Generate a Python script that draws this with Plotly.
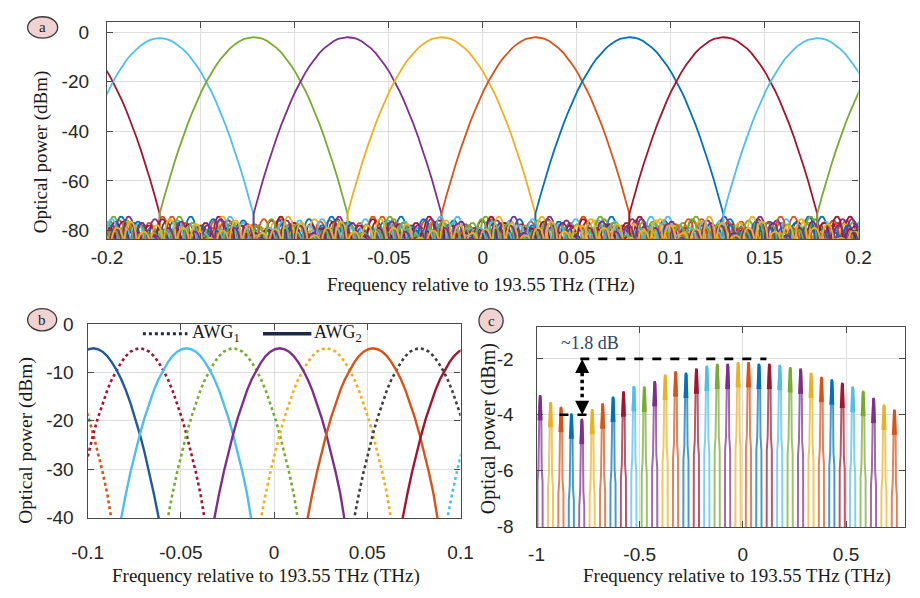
import plotly.graph_objects as go

W, H = 920, 598

# ---------------------------------------------------------------- data
# Passband shape shared by all channels: attenuation below the peak (dB)
# versus offset from the channel centre (THz), one side of the lobe.
lobe_offset = [0.0, 0.0025, 0.005, 0.0075, 0.01, 0.0125, 0.015, 0.0175, 0.02,
               0.0225, 0.025, 0.0275, 0.03, 0.0325, 0.035, 0.0375, 0.04,
               0.0425, 0.045, 0.0475, 0.05]
lobe_atten = [0.0, 0.2, 0.7, 1.6, 2.9, 4.5, 6.4, 8.7, 11.4, 14.4, 17.8, 21.5,
              25.6, 30.1, 34.9, 40.1, 45.6, 51.5, 57.7, 64.3, 71.3]

# Sidelobe ripple outside the main lobe (panel a)
arch_width = 0.007
arch_pos = [0.0, 0.1, 0.25, 0.4, 0.5, 0.6, 0.75, 0.9, 1.0]
arch_frac = [0.0, 0.55, 0.88, 0.99, 1.0, 0.99, 0.88, 0.55, 0.0]
sidelobe_floor = -87.0
sidelobe_peaks = [-75.5, -78, -80.5, -76.5, -79, -82, -77, -74.5,
                  -79.5, -81, -78, -76, -80, -83, -77.5, -79]

# Panel a: single AWG channels
a_centers = [-0.322, -0.272, -0.222, -0.172, -0.122, -0.072, -0.022, 0.028,
             0.078, 0.128, 0.178, 0.228, 0.278, 0.328]
a_peaks = [-2.0, -2.0, -2.0, -2.4, -2.0, -2.0, -2.0, -2.0, -2.0, -2.0, -2.4,
           -2.0, -2.0, -2.0]
a_colors = ["orange", "blue", "red", "lightblue", "green", "purple", "yellow",
            "orange", "blue", "red", "lightblue", "green", "purple", "yellow"]

# Panel b: two interleaved AWGs
b_awg1_centers = [-0.122, -0.072, -0.022, 0.028, 0.078, 0.128]
b_awg1_peaks = [-5.0, -5.0, -5.0, -5.0, -5.0, -5.0]
b_awg1_colors = ["#D95319", "#A2142F", "#77AC30", "#EDB120", "#404040", "#4DBEEE"]
b_awg2_centers = [-0.097, -0.047, 0.003, 0.053, 0.104]
b_awg2_peaks = [-5.0, -5.0, -5.0, -5.0, -5.0]
b_awg2_colors = ["#235A9C", "#4DBEEE", "#7E2F8E", "#D95319", "#A2142F"]

# Panel c: full comb of channels
c_centers = [-0.983, -0.9325, -0.882, -0.8315, -0.781, -0.7305, -0.680,
             -0.6295, -0.579, -0.5285, -0.478, -0.4275, -0.377, -0.3265,
             -0.276, -0.2255, -0.175, -0.1245, -0.074, -0.0235, 0.027,
             0.0775, 0.128, 0.1785, 0.229, 0.2795, 0.330, 0.3805, 0.431,
             0.4815, 0.532, 0.5825, 0.633, 0.6835, 0.734]
c_peaks = [-3.3, -3.55, -3.72, -3.96, -4.15, -3.8, -3.6, -3.36, -3.17, -2.98,
           -3.0, -2.8, -2.57, -2.45, -2.5, -2.35, -2.25, -2.18, -2.18, -2.12,
           -2.12, -2.18, -2.18, -2.22, -2.3, -2.35, -2.5, -2.65, -2.74, -2.86,
           -3.0, -3.15, -3.4, -3.64, -3.82]
c_colors = ["purple", "yellow", "orange", "blue", "purple", "yellow", "orange",
            "blue", "red", "lightblue", "green", "purple", "yellow", "orange",
            "blue", "red", "lightblue", "green", "purple", "yellow", "orange",
            "blue", "red", "lightblue", "green", "purple", "yellow", "orange",
            "blue", "red", "lightblue", "green", "purple", "yellow", "orange"]
# narrow passband outline as it appears on the wide frequency span
spike_offset = [-0.013, -0.0122, -0.0078, -0.0062, -0.0025, 0.0, 0.0025,
                0.0062, 0.0078, 0.0122, 0.013]
spike_atten = [7.0, 3.1, 2.6, 0.9, 0.08, 0.0, 0.08, 0.9, 2.6, 3.1, 7.0]

# flatness markers in panel c
flat_hi = -2.0
flat_lo = -4.0
flat_hi_span = [-0.788, 0.114]
flat_lo_span = [-0.889, -0.755]
flat_arrow_x = -0.779

# ---------------------------------------------------------------- styles
PALETTE = {"blue": "#0072BD", "orange": "#D95319", "yellow": "#EDB120",
           "purple": "#7E2F8E", "green": "#77AC30", "lightblue": "#4DBEEE",
           "red": "#A2142F"}
SANS = "Liberation Sans, Arial, sans-serif"
SERIF = "Liberation Serif, Times New Roman, serif"
FRAME = "#4a4a4a"
GRID = "#dedede"
TICK = "#262626"


def mix_white(hex_color, t):
    r, g, b = (int(hex_color[i:i + 2], 16) for i in (1, 3, 5))
    r, g, b = (round(c + (255 - c) * t) for c in (r, g, b))
    return f"#{r:02x}{g:02x}{b:02x}"


def main_lobe(center, peak):
    offs = [-o for o in reversed(lobe_offset[1:])] + lobe_offset
    atts = list(reversed(lobe_atten[1:])) + lobe_atten
    return [center + o for o in offs], [peak - a for a in atts]


def channel_with_sidelobes(center, peak, phase, n_arch=80):
    xs, ys = [], []
    n_lv = len(sidelobe_peaks)
    edge = lobe_offset[-1]
    for j in reversed(range(n_arch)):
        start = -edge - (j + 1) * arch_width
        lvl = sidelobe_peaks[(phase + j) % n_lv]
        for p, fr in zip(arch_pos, arch_frac):
            xs.append(center + start + p * arch_width)
            ys.append(sidelobe_floor + fr * (lvl - sidelobe_floor))
    mx, my = main_lobe(center, peak)
    xs += mx
    ys += my
    for j in range(n_arch):
        start = edge + j * arch_width
        lvl = sidelobe_peaks[(phase + 9 + j) % n_lv]
        for p, fr in zip(arch_pos, arch_frac):
            xs.append(center + start + p * arch_width)
            ys.append(sidelobe_floor + fr * (lvl - sidelobe_floor))
    return xs, ys


fig = go.Figure()

# ---------------------------------------------------------------- panel a
for i, (c, p, col) in enumerate(zip(a_centers, a_peaks, a_colors)):
    xs, ys = channel_with_sidelobes(c, p, (i * 5) % len(sidelobe_peaks))
    fig.add_trace(go.Scatter(x=xs, y=ys, mode="lines", xaxis="x", yaxis="y",
                             line=dict(color=PALETTE[col], width=1.8),
                             showlegend=False, hoverinfo="skip"))

# ---------------------------------------------------------------- panel b
for c, p, col in zip(b_awg1_centers, b_awg1_peaks, b_awg1_colors):
    xs, ys = main_lobe(c, p)
    fig.add_trace(go.Scatter(x=xs, y=ys, mode="lines", xaxis="x2", yaxis="y2",
                             line=dict(color=col, width=2.6, dash="dot"),
                             showlegend=False, hoverinfo="skip"))
for c, p, col in zip(b_awg2_centers, b_awg2_peaks, b_awg2_colors):
    xs, ys = main_lobe(c, p)
    fig.add_trace(go.Scatter(x=xs, y=ys, mode="lines", xaxis="x2", yaxis="y2",
                             line=dict(color=col, width=2.4),
                             showlegend=False, hoverinfo="skip"))

# ---------------------------------------------------------------- panel c
for c, p, col in zip(c_centers, c_peaks, c_colors):
    xs = [c + o for o in spike_offset]
    ys = [p - a for a in spike_atten]
    fig.add_trace(go.Scatter(x=xs, y=ys, mode="lines", xaxis="x3", yaxis="y3",
                             line=dict(color=mix_white(PALETTE[col], 0.28), width=2),
                             showlegend=False, hoverinfo="skip"))
    top = [k for k, a in enumerate(spike_atten) if a <= 1.0]
    fig.add_trace(go.Scatter(x=[xs[k] for k in top], y=[ys[k] for k in top],
                             mode="lines", xaxis="x3", yaxis="y3",
                             line=dict(color=PALETTE[col], width=2.4),
                             showlegend=False, hoverinfo="skip"))


# ---------------------------------------------------------------- axes
def px(x):
    return x / W


def py(y):
    return 1 - y / H


def axis(domain, rng, vals, anchor, standoff, labels=None):
    return dict(domain=domain, range=rng, tickvals=vals,
                ticktext=labels if labels is not None else [f"{v:g}" for v in vals],
                anchor=anchor, showgrid=True, gridcolor=GRID, gridwidth=1,
                zeroline=False, showline=True, linecolor=FRAME, linewidth=1.4,
                mirror="ticks", ticks="inside", ticklen=6, tickwidth=1.2,
                tickcolor=FRAME, ticklabelstandoff=standoff,
                tickfont=dict(family=SANS, size=19, color=TICK), fixedrange=True)


a_xticks = [-0.2, -0.15, -0.1, -0.05, 0, 0.05, 0.1, 0.15, 0.2]
a_yticks = [-80, -60, -40, -20, 0]
b_xticks = [-0.1, -0.05, 0, 0.05, 0.1]
b_yticks = [-40, -30, -20, -10, 0]
c_xticks = [-1, -0.5, 0, 0.5]
c_yticks = [-8, -6, -4, -2]

fig.update_layout(
    width=W, height=H, margin=dict(l=0, r=0, t=0, b=0),
    paper_bgcolor="white", plot_bgcolor="white",
    xaxis=axis([px(94), px(870)], [-0.2, 0.2], a_xticks, "y", 1),
    yaxis=axis([py(236.7), py(12.3)], [-83.4, 4.2], a_yticks, "x", 13),
    xaxis2=axis([px(74), px(459)], [-0.1, 0.1], b_xticks, "y2", 17),
    yaxis2=axis([py(525.5), py(324.5)], [-40.1, 0.1], b_yticks, "x2", 9),
    xaxis3=axis([px(537.5), px(918)], [-1.0, 0.786], c_xticks, "y3", 10),
    yaxis3=axis([py(535), py(328)], [-8.02, -0.86], c_yticks, "x3", 18),
)

# ---------------------------------------------------------------- text
annotations = []


def label(text, x, y, size, angle=0, color="#1a1a1a", family=SERIF, xanchor="center"):
    annotations.append(dict(text=text, x=px(x), y=py(y), xref="paper", yref="paper",
                            showarrow=False, textangle=angle, xanchor=xanchor,
                            yanchor="middle", font=dict(family=family, size=size, color=color)))


xtitle = "Frequency relative to 193.55 THz (THz)"
ytitle = "Optical power (dBm)"
label(xtitle, 480, 284, 19)
label(ytitle, 26, 147, 19, angle=-90)
label(xtitle, 258, 586, 19)
label(ytitle, 10, 445, 19.5, angle=-90)
label(xtitle, 744, 586, 19)
label(ytitle, 488, 433, 20, angle=-90)

# panel b legend
label("AWG<sub>1</sub>", 180, 335, 18, xanchor="left")
label("AWG<sub>2</sub>", 306, 335, 18, xanchor="left")

# flatness label
label("~1.8 dB", 593, 345, 18, color="#2b4470")

shapes = []
# legend samples
shapes.append(dict(type="line", xref="paper", yref="paper", x0=px(131), x1=px(177),
                   y0=py(335), y1=py(335), line=dict(color="#1c2a44", width=3, dash="dot")))
shapes.append(dict(type="line", xref="paper", yref="paper", x0=px(255), x1=px(305),
                   y0=py(335), y1=py(335), line=dict(color="#1c2a44", width=3.5)))

# panel tags
for tag, (x0, y0, x1, y1) in {"a": (12, 7, 43, 29), "b": (12, 309, 42, 332),
                              "c": (478, 309, 503, 334)}.items():
    shapes.append(dict(type="circle", xref="paper", yref="paper",
                       x0=px(x0), x1=px(x1), y0=py(y1), y1=py(y0),
                       fillcolor="#f1d2d2", line=dict(color="#3a3a3a", width=1.3)))
    label(tag, (x0 + x1) / 2, (y0 + y1) / 2, 15, color="#222222")

# flatness markers
shapes.append(dict(type="line", xref="x3", yref="y3", x0=flat_hi_span[0], x1=flat_hi_span[1],
                   y0=flat_hi, y1=flat_hi, line=dict(color="black", width=2.6, dash="dash")))
shapes.append(dict(type="line", xref="x3", yref="y3", x0=flat_lo_span[0], x1=flat_lo_span[1],
                   y0=flat_lo, y1=flat_lo, line=dict(color="black", width=2.6, dash="dash")))
shapes.append(dict(type="line", xref="x3", yref="y3", x0=flat_arrow_x, x1=flat_arrow_x,
                   y0=flat_hi - 0.5, y1=flat_lo + 0.5,
                   line=dict(color="black", width=3.5, dash="dot")))
shapes.append(dict(type="path", xref="x3", yref="y3", xsizemode="pixel", ysizemode="pixel",
                   xanchor=flat_arrow_x, yanchor=flat_hi,
                   path="M -7 -14 L 0 0 L 7 -14 Z", fillcolor="black", line=dict(width=0)))
shapes.append(dict(type="path", xref="x3", yref="y3", xsizemode="pixel", ysizemode="pixel",
                   xanchor=flat_arrow_x, yanchor=flat_lo,
                   path="M -7 14 L 0 0 L 7 14 Z", fillcolor="black", line=dict(width=0)))

fig.update_layout(annotations=annotations, shapes=shapes)
fig.write_html("out.html")
